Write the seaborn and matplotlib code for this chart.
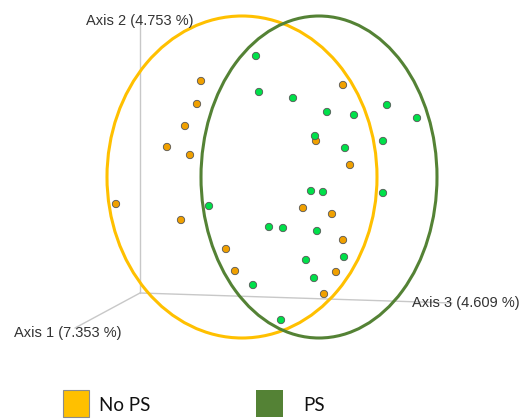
import matplotlib
matplotlib.use("Agg")
import matplotlib.pyplot as plt
import pandas as pd
import seaborn as sns
from matplotlib.patches import Ellipse, Rectangle

# sample positions (pixel-like units, y down)
nops_x = [201, 197, 185, 167, 190, 116, 181, 343, 316, 350, 303, 332, 343, 226, 235, 336, 324]
nops_y = [81, 104, 126, 147, 155, 204, 220, 85, 141, 165, 208, 214, 240, 249, 271, 272, 294]
ps_x = [256, 259, 293, 327, 354, 387, 417, 315, 383, 345, 311, 323, 383, 209, 269, 283, 317, 306, 344, 314, 253, 281]
ps_y = [56, 92, 98, 112, 115, 105, 118, 136, 141, 148, 191, 192, 193, 206, 227, 228, 231, 260, 257, 278, 285, 320]

groups = ["No PS", "PS"]
point_colors = {"No PS": "#F0A000", "PS": "#00E04A"}
ellipse_colors = {"No PS": "#FFC000", "PS": "#548235"}
# ellipse centre x, centre y, width, height
ell_cx = [242, 319]
ell_cy = [177, 177]
ell_w = [270, 236]
ell_h = [322, 322]

axis_labels = ["Axis 1 (7.353 %)", "Axis 2 (4.753 %)", "Axis 3 (4.609 %)"]

df = pd.DataFrame({
    "x": nops_x + ps_x,
    "y": nops_y + ps_y,
    "group": ["No PS"] * len(nops_x) + ["PS"] * len(ps_x),
})

sns.set_style("white")
fig = plt.figure(figsize=(5.19, 4.19), dpi=100)
ax = fig.add_axes([0, 0, 1, 1])
ax.set_xlim(0, 519)
ax.set_ylim(419, 0)
ax.axis("off")

# pseudo-3d axes
origin = (140, 293)
ax.plot([origin[0], 140], [origin[1], 25], color="#C8C8C8", lw=1, zorder=1)
ax.plot([origin[0], 452], [origin[1], 303], color="#C8C8C8", lw=1, zorder=1)
ax.plot([origin[0], 75], [origin[1], 328], color="#C8C8C8", lw=1, zorder=1)

txt = dict(fontsize=10.5, color="#333333", family="Liberation Sans", va="center")
ax.text(14, 333, axis_labels[0], **txt)
ax.text(86, 21, axis_labels[1], **txt)
ax.text(412, 303, axis_labels[2], **txt)

for g, cx, cy, w, h in zip(groups, ell_cx, ell_cy, ell_w, ell_h):
    ax.add_patch(Ellipse((cx, cy), w, h, fill=False, ec=ellipse_colors[g], lw=2.2, zorder=2))

sns.scatterplot(data=df, x="x", y="y", hue="group", palette=point_colors,
                s=28, edgecolor="#555555", linewidth=0.6, legend=False, ax=ax, zorder=3)

# legend boxes
ax.add_patch(Rectangle((63, 390), 26, 27, fc=ellipse_colors["No PS"], ec="#8C8C8C", lw=0.8))
ax.text(99, 405, "No PS", fontsize=13.5, family="Lato", va="center", color="#111111")
ax.add_patch(Rectangle((256, 390), 27, 27, fc=ellipse_colors["PS"], ec="none"))
ax.text(303, 405, "PS", fontsize=13.5, family="Lato", va="center", color="#111111")

fig.savefig("out.png", dpi=100)
